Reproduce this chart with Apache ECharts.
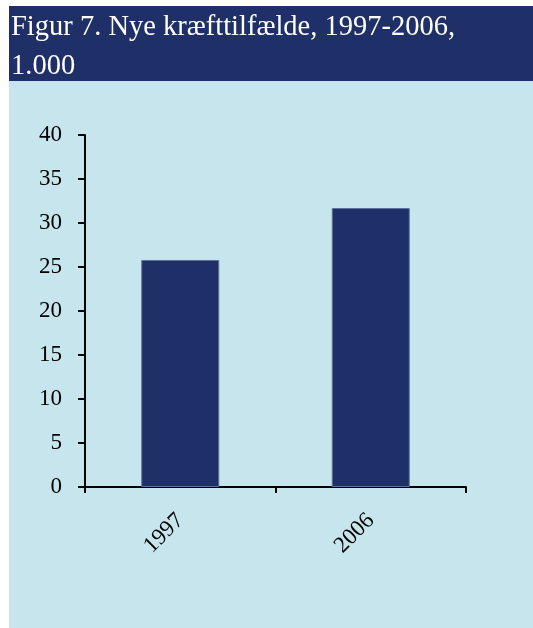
<!DOCTYPE html>
<html><head><meta charset="utf-8">
<script src="https://cdn.jsdelivr.net/npm/echarts@6/dist/echarts.min.js"></script>
<style>html,body{margin:0;padding:0;background:#fff;}#c{width:533px;height:628px;}</style>
</head><body><div id="c"></div>
<script>
const titleLines = ['Figur 7. Nye kræfttilfælde, 1997-2006,', '1.000'];
const categories = ['1997', '2006'];
const values = [25.8, 31.7];
const yTicks = {min: 0, max: 40, interval: 5};

const FONT = "'Liberation Serif', 'Times New Roman', serif";
const chart = echarts.init(document.getElementById('c'), null, {renderer: 'canvas'});
chart.setOption({
  backgroundColor: '#ffffff',
  animation: false,
  graphic: [
    {type: 'rect', z: -10, shape: {x: 9, y: 6, width: 524, height: 75}, style: {fill: '#1F3068'}},
    {type: 'rect', z: -10, shape: {x: 9, y: 81, width: 524, height: 547}, style: {fill: '#C7E5ED'}}
  ],
  title: {
    text: titleLines.join('\n'),
    left: 6, top: 3,
    textStyle: {color: '#ffffff', fontFamily: FONT, fontSize: 28.5, fontWeight: 'normal', lineHeight: 39}
  },
  grid: {left: 85, right: 67, top: 135, bottom: 141, containLabel: false},
  xAxis: {
    type: 'category',
    data: categories,
    axisLine: {lineStyle: {color: '#000', width: 2}},
    axisTick: {show: true, length: 6, lineStyle: {color: '#000', width: 2}},
    axisLabel: {rotate: 45, margin: 30, color: '#000', fontFamily: FONT, fontSize: 23}
  },
  yAxis: {
    type: 'value',
    min: yTicks.min, max: yTicks.max, interval: yTicks.interval,
    axisLine: {show: true, lineStyle: {color: '#000', width: 2}},
    axisTick: {show: true, length: 7, lineStyle: {color: '#000', width: 2}},
    splitLine: {show: false},
    axisLabel: {margin: 23, color: '#000', fontFamily: FONT, fontSize: 23}
  },
  series: [{
    type: 'bar',
    data: values,
    barWidth: 78,
    itemStyle: {color: '#1F3068', borderColor: '#5A72A0', borderWidth: 1}
  }]
});
</script></body></html>
